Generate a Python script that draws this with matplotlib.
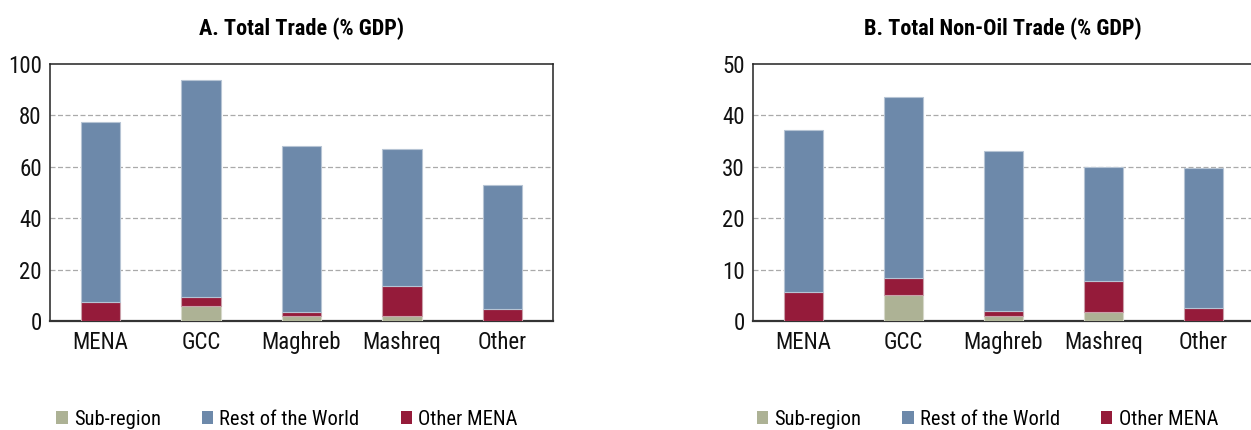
import numpy as np
import matplotlib
matplotlib.use("Agg")
import matplotlib.pyplot as plt
from matplotlib.patches import Patch

plt.rcParams['font.family'] = ['Roboto Condensed', 'Liberation Sans Narrow', 'Roboto', 'DejaVu Sans']

# --- data ---
regions = ['MENA', 'GCC', 'Maghreb', 'Mashreq', 'Other']

# A. Total trade (% GDP)
a_total = [77.2, 93.7, 68.0, 66.7, 52.9]
a_sub = [0.0, 6.0, 2.1, 2.1, 0.0]
a_other_mena_top = [7.5, 9.5, 3.6, 13.5, 4.7]

# B. Total non-oil trade (% GDP)
b_total = [37.2, 43.6, 33.0, 30.0, 29.8]
b_sub = [0.0, 5.1, 0.9, 1.7, 0.0]
b_other_mena_top = [5.7, 8.3, 2.0, 7.7, 2.6]

series_names = ['Sub-region', 'Rest of the World', 'Other MENA']
colors = ['#adb295', '#6d89aa', '#951b3a']
edges = ['#d6d8ca', '#b6c4d4', '#caa0aa']


def stacked(ax, total, sub, om_top, ymax, step, title):
    x = np.arange(len(regions))
    sub = np.array(sub)
    om = np.array(om_top) - sub
    rest = np.array(total) - np.array(om_top)
    w = 0.39
    ax.bar(x, sub, w, color=colors[0], edgecolor=edges[0], linewidth=0.8, zorder=3)
    ax.bar(x, om, w, bottom=sub, color=colors[2], edgecolor=edges[2], linewidth=0.8, zorder=3)
    ax.bar(x, rest, w, bottom=sub + om, color=colors[1], edgecolor=edges[1], linewidth=0.8, zorder=3)
    ax.set_xlim(-0.5, len(regions) - 0.5)
    ax.set_ylim(0, ymax)
    ax.set_yticks(np.arange(0, ymax + 1, step))
    ax.set_xticks(x)
    ax.set_xticklabels(regions)
    ax.tick_params(length=0, labelsize=16.5, colors='#111111')
    ax.tick_params(axis='x', pad=7)
    ax.tick_params(axis='y', pad=6)
    for y in np.arange(step, ymax, step):
        ax.axhline(y, color='#aaaaaa', linestyle=(0, (4, 2)), linewidth=0.9, zorder=1)
    for s in ax.spines.values():
        s.set_color('#222222')
        s.set_linewidth(1.1)
    ax.spines['bottom'].set_linewidth(1.6)
    ax.spines['bottom'].set_color('#333333')
    ax.set_title(title, fontsize=16, fontweight='bold', pad=21)


fig = plt.figure(figsize=(12.51, 4.30), dpi=100)
ax1 = fig.add_axes([0.040, 0.2535, 0.402, 0.598])
ax2 = fig.add_axes([0.602, 0.2535, 0.400, 0.598])

stacked(ax1, a_total, a_sub, a_other_mena_top, 100, 20, 'A. Total Trade (% GDP)')
stacked(ax2, b_total, b_sub, b_other_mena_top, 50, 10, 'B. Total Non-Oil Trade (% GDP)')

handles = [Patch(facecolor=c, edgecolor='none') for c in colors]
for xl in (0.045, 0.605):
    fig.legend(handles, series_names, loc='center left', bbox_to_anchor=(xl, 0.025),
               ncol=3, frameon=False, fontsize=14.8, handlelength=0.55, handleheight=0.55,
               handletextpad=0.3, columnspacing=2.0, borderaxespad=0, borderpad=0)

fig.savefig('out.png', dpi=100, facecolor='white')
